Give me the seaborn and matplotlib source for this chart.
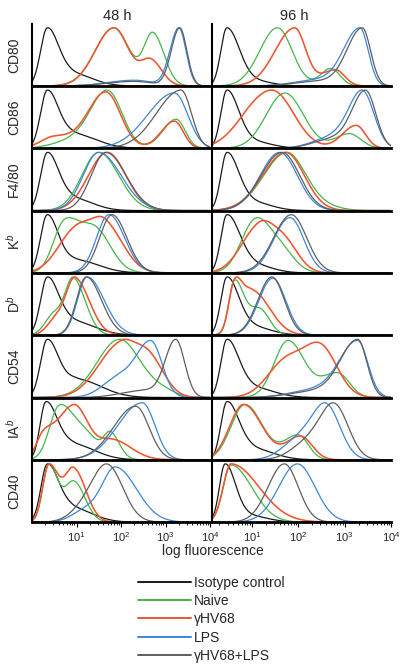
import numpy as np
import pandas as pd
import matplotlib
matplotlib.use("Agg")
import matplotlib.pyplot as plt
import seaborn as sns
from matplotlib.lines import Line2D
from matplotlib.ticker import FixedLocator, NullFormatter, LogLocator

sns.set_theme(style="white")
plt.rcParams["font.family"] = ["Liberation Sans", "DejaVu Sans"]
plt.rcParams["mathtext.fontset"] = "custom"
plt.rcParams["mathtext.rm"] = "Liberation Sans"
plt.rcParams["mathtext.it"] = "Liberation Sans:italic"

# ---------------- data ----------------
SAMPLES = ["Isotype control", "Naive", "\u03b3HV68", "LPS", "\u03b3HV68+LPS"]
COLORS = ["#1a1a1a", "#43b64a", "#ee5530", "#3c86d8", "#5e5e5e"]
MARKERS = ["CD80", "CD86", "F4/80", "K$^{b}$", "D$^{b}$", "CD54", "IA$^{b}$", "CD40"]
TIMES = ["48 h", "96 h"]
XTICK_LABELS = ["$10^{1}$", "$10^{2}$", "$10^{3}$", "$10^{4}$"]

# Each histogram read from the picture as peaks in log10(fluorescence):
# (peak position, relative height, left spread, right spread)
CD80_48 = [
    [(0.34, 1, 0.15, 0.25), (0.9, 0.22, 0.3, 0.45)],
    [(1.84, 1, 0.42, 0.35), (2.72, 0.88, 0.2, 0.25)],
    [(1.84, 1, 0.42, 0.33), (2.67, 0.43, 0.22, 0.25)],
    [(3.30, 1, 0.2, 0.16), (2.3, 0.1, 0.6, 0.4)],
    [(3.32, 1, 0.19, 0.16), (2.3, 0.08, 0.6, 0.4)],
]
CD86_48 = [
    [(0.34, 1, 0.15, 0.25), (0.95, 0.25, 0.3, 0.5)],
    [(1.69, 1, 0.4, 0.33), (0.8, 0.1, 0.4, 0.3), (3.24, 0.5, 0.3, 0.2)],
    [(1.66, 0.97, 0.4, 0.33), (0.5, 0.2, 0.3, 0.45), (3.2, 0.47, 0.3, 0.2)],
    [(3.20, 0.95, 0.6, 0.3)],
    [(3.35, 1, 0.55, 0.23)],
]
F480_48 = [
    [(0.34, 1, 0.15, 0.25), (0.9, 0.22, 0.3, 0.45)],
    [(1.50, 1, 0.38, 0.45)],
    [(1.69, 1, 0.42, 0.42)],
    [(1.50, 1, 0.35, 0.5)],
    [(1.66, 1, 0.33, 0.45)],
]
KB_48 = [
    [(0.34, 1, 0.15, 0.25), (1.0, 0.22, 0.3, 0.5)],
    [(0.72, 0.95, 0.25, 0.3), (1.4, 0.9, 0.35, 0.36)],
    [(1.0, 0.92, 0.4, 0.35), (1.65, 0.97, 0.3, 0.4)],
    [(1.73, 1, 0.28, 0.35)],
    [(1.80, 1, 0.28, 0.33)],
]
DB_48 = [
    [(0.34, 1, 0.15, 0.25), (0.9, 0.25, 0.3, 0.5)],
    [(0.94, 1, 0.18, 0.27), (0.5, 0.4, 0.2, 0.25)],
    [(0.98, 1, 0.2, 0.32), (0.55, 0.3, 0.2, 0.25)],
    [(1.24, 1, 0.22, 0.38)],
    [(1.22, 1, 0.22, 0.34)],
]
CD54_48 = [
    [(0.34, 1, 0.15, 0.25), (1.0, 0.32, 0.3, 0.55)],
    [(1.96, 1, 0.5, 0.45), (2.9, 0.12, 0.4, 0.3)],
    [(2.0, 1, 0.5, 0.35), (2.65, 0.68, 0.3, 0.33)],
    [(2.67, 0.98, 0.35, 0.25), (1.9, 0.3, 0.35, 0.3)],
    [(3.23, 1, 0.24, 0.2), (2.5, 0.12, 0.5, 0.3)],
]
IAB_48 = [
    [(0.31, 1, 0.13, 0.25), (0.9, 0.28, 0.3, 0.5)],
    [(0.61, 0.95, 0.22, 0.3), (1.2, 0.45, 0.3, 0.3), (1.77, 0.45, 0.15, 0.2)],
    [(0.94, 0.95, 0.4, 0.3), (0.25, 0.3, 0.15, 0.2), (1.8, 0.35, 0.35, 0.42)],
    [(2.48, 0.98, 0.55, 0.28)],
    [(2.33, 0.92, 0.5, 0.3)],
]
CD40_48 = [
    [(0.34, 1, 0.14, 0.25), (0.9, 0.25, 0.3, 0.45)],
    [(0.38, 1, 0.14, 0.2), (0.94, 0.7, 0.2, 0.25)],
    [(0.38, 1, 0.14, 0.22), (0.94, 0.92, 0.2, 0.27)],
    [(1.88, 0.95, 0.3, 0.47), (1.2, 0.2, 0.3, 0.3)],
    [(1.69, 1, 0.35, 0.35), (1.1, 0.15, 0.3, 0.3)],
]
CD80_96 = [
    [(0.46, 1, 0.13, 0.27), (1.1, 0.08, 0.3, 0.35)],
    [(1.55, 1, 0.38, 0.32), (2.7, 0.3, 0.22, 0.2)],
    [(1.92, 1, 0.42, 0.24), (2.8, 0.28, 0.3, 0.2)],
    [(3.33, 1, 0.35, 0.18), (2.4, 0.1, 0.5, 0.4)],
    [(3.38, 1, 0.33, 0.18), (2.4, 0.08, 0.5, 0.4)],
]
CD86_96 = [
    [(0.46, 1, 0.13, 0.25), (1.0, 0.12, 0.3, 0.4)],
    [(1.71, 0.95, 0.4, 0.4), (3.1, 0.25, 0.3, 0.25)],
    [(1.45, 1, 0.5, 0.45), (0.8, 0.15, 0.4, 0.3), (3.25, 0.4, 0.3, 0.2)],
    [(3.38, 1, 0.3, 0.25), (2.7, 0.18, 0.4, 0.3)],
    [(3.45, 1, 0.3, 0.22), (2.7, 0.15, 0.4, 0.3)],
]
F480_96 = [
    [(0.46, 1, 0.13, 0.25), (1.0, 0.15, 0.3, 0.4)],
    [(1.75, 1, 0.5, 0.38), (2.4, 0.1, 0.3, 0.4)],
    [(1.73, 1, 0.5, 0.4)],
    [(1.60, 1, 0.42, 0.38)],
    [(1.65, 1, 0.45, 0.38)],
]
KB_96 = [
    [(0.46, 1, 0.13, 0.27), (1.0, 0.15, 0.3, 0.4)],
    [(1.06, 0.95, 0.3, 0.3), (1.6, 0.45, 0.3, 0.3)],
    [(1.15, 0.9, 0.38, 0.3), (1.7, 0.6, 0.3, 0.3)],
    [(1.82, 0.95, 0.35, 0.3)],
    [(1.85, 1, 0.38, 0.33)],
]
DB_96 = [
    [(0.46, 1, 0.13, 0.25), (1.0, 0.15, 0.3, 0.4)],
    [(0.62, 0.95, 0.12, 0.18), (1.15, 0.52, 0.3, 0.22)],
    [(0.62, 0.94, 0.12, 0.15), (1.0, 1.0, 0.25, 0.38)],
    [(1.45, 0.98, 0.3, 0.28)],
    [(1.43, 1, 0.3, 0.27)],
]
CD54_96 = [
    [(0.46, 1, 0.13, 0.25), (1.0, 0.18, 0.3, 0.45)],
    [(1.78, 0.98, 0.3, 0.35), (2.85, 0.42, 0.35, 0.25)],
    [(1.75, 0.74, 0.4, 0.4), (2.5, 0.95, 0.35, 0.35)],
    [(3.28, 0.98, 0.4, 0.22), (2.3, 0.12, 0.5, 0.4)],
    [(3.28, 1, 0.38, 0.2), (2.3, 0.1, 0.5, 0.4)],
]
IAB_96 = [
    [(0.46, 1, 0.13, 0.25), (1.0, 0.2, 0.3, 0.45)],
    [(0.85, 0.95, 0.3, 0.38), (2.0, 0.42, 0.3, 0.22)],
    [(0.82, 0.95, 0.3, 0.4), (2.05, 0.4, 0.3, 0.25)],
    [(2.6, 0.98, 0.3, 0.3), (2.0, 0.35, 0.35, 0.3)],
    [(2.78, 0.98, 0.3, 0.3), (2.2, 0.3, 0.35, 0.3)],
]
CD40_96 = [
    [(0.42, 1, 0.12, 0.22), (0.9, 0.12, 0.3, 0.4)],
    [(0.55, 0.98, 0.17, 0.45)],
    [(0.55, 1, 0.17, 0.6)],
    [(1.98, 1, 0.4, 0.38)],
    [(1.70, 1, 0.35, 0.3)],
]

PANELS = [
    [CD80_48, CD86_48, F480_48, KB_48, DB_48, CD54_48, IAB_48, CD40_48],
    [CD80_96, CD86_96, F480_96, KB_96, DB_96, CD54_96, IAB_96, CD40_96],
]


def histogram(peaks, logx):
    y = np.zeros_like(logx)
    for mu, amp, sl, sr in peaks:
        s = np.where(logx < mu, sl, sr)
        y += amp * np.exp(-0.5 * ((logx - mu) / s) ** 2)
    top = max(p[1] for p in peaks)
    return y / y.max() * top


# ---------------- layout ----------------
W, H = 412, 669
fig = plt.figure(figsize=(W / 100, H / 100), dpi=100)
COLS = [(32, 210, 0.0), (212, 391, 0.14)]
PH = 62.3
BOTTOM0 = 86

logx_full = np.linspace(0.0, 4.0, 801)

for c, (x0, x1, lmin) in enumerate(COLS):
    for r in range(8):
        yb = BOTTOM0 + PH * r
        ax = fig.add_axes([x0 / W, 1 - yb / H, (x1 - x0) / W, PH / H])
        rows = []
        for s_i, peaks in enumerate(PANELS[c][r]):
            y = histogram(peaks, logx_full)
            rows.append(pd.DataFrame({"fluorescence": 10 ** logx_full,
                                      "events": y,
                                      "sample": SAMPLES[s_i]}))
        df = pd.concat(rows, ignore_index=True)
        for s_i, name in enumerate(SAMPLES):
            sub = df[df["sample"] == name]
            sns.lineplot(data=sub, x="fluorescence", y="events", color=COLORS[s_i],
                         lw=1.15 if s_i == 2 else 0.9, estimator=None,
                         legend=False, ax=ax)
        ax.set_xscale("log")
        ax.set_xlim(10 ** lmin, 1e4)
        ax.set_ylim(0, 1.07)
        ax.set_xlabel("")
        ax.set_ylabel("")
        ax.set_yticks([])
        for sp in ["top", "right"]:
            ax.spines[sp].set_visible(False)
        ax.spines["left"].set_color("black")
        ax.spines["left"].set_linewidth(1.5)
        ax.spines["bottom"].set_color("black")
        ax.spines["bottom"].set_linewidth(2.0)
        ax.patch.set_alpha(0)
        if r < 7:
            ax.set_xticks([])
            ax.xaxis.set_minor_locator(FixedLocator([]))
        else:
            ax.xaxis.set_major_locator(FixedLocator([1e1, 1e2, 1e3, 1e4]))
            ax.set_xticklabels(XTICK_LABELS)
            ax.xaxis.set_minor_locator(LogLocator(base=10, subs=np.arange(2, 10), numticks=20))
            ax.xaxis.set_minor_formatter(NullFormatter())
            ax.tick_params(axis="x", which="major", direction="out", length=3.5,
                           width=0.8, color="black", labelsize=8, pad=2, bottom=True)
            ax.tick_params(axis="x", which="minor", direction="out", length=2,
                           width=0.6, color="black", bottom=True)
        if c == 0:
            fig.text(14 / W, 1 - (yb - PH / 2) / H, MARKERS[r], rotation=90,
                     ha="center", va="center", fontsize=10)

fig.text(117 / W, 1 - 16 / H, TIMES[0], ha="center", va="center", fontsize=10.5)
fig.text(294 / W, 1 - 16 / H, TIMES[1], ha="center", va="center", fontsize=10.5)
fig.text(213 / W, 1 - 551 / H, "log fluorescence", ha="center", va="center", fontsize=10)

handles = [Line2D([0], [0], color=col, lw=1.4) for col in COLORS]
fig.legend(handles, SAMPLES, loc="upper left", bbox_to_anchor=(138 / W, 1 - 576 / H),
           frameon=False, fontsize=10, handlelength=3.85, handletextpad=0.15,
           labelspacing=0.3, borderpad=0, borderaxespad=0)

fig.savefig("out.png", dpi=100)
